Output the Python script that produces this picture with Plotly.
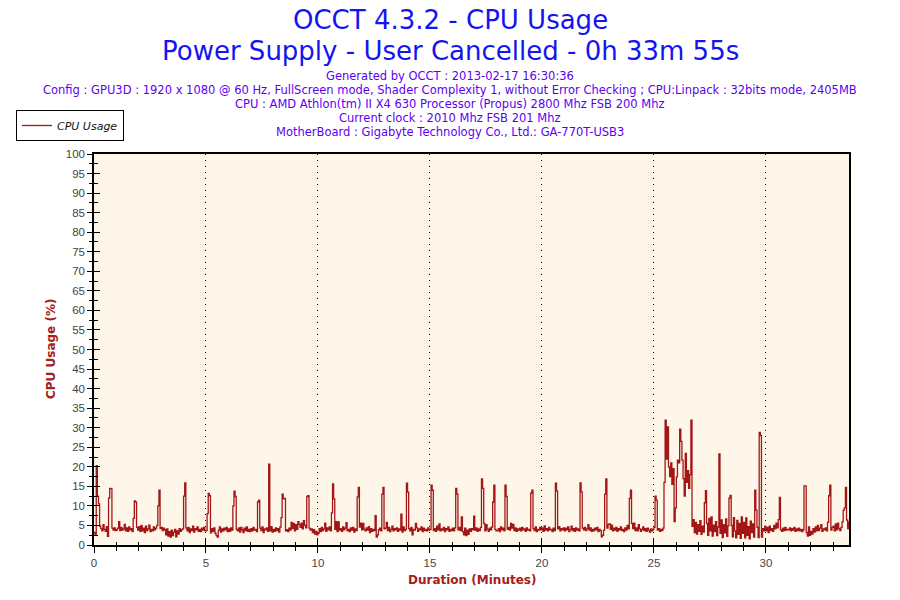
import plotly.graph_objects as go

# CPU usage samples, one every 0.05 minute (3 s), rows = one minute each
m00 = [3.2, 2.6, 20.3, 12.5, 10.5, 4.8, 4.2, 3.6, 5.2, 4.0, 3.5, 4.7, 2.2, 12.0, 14.5, 14.4, 4.3, 3.8, 4.4, 3.7]
m01 = [3.9, 4.3, 6.0, 3.7, 4.5, 3.8, 4.1, 5.3, 3.6, 4.4, 3.5, 4.6, 3.9, 4.2, 3.4, 6.8, 11.3, 11.0, 4.5, 3.8]
m02 = [4.7, 3.5, 5.0, 3.6, 4.3, 3.2, 4.8, 3.7, 4.1, 5.1, 3.4, 4.0, 3.6, 4.6, 3.9, 4.3, 5.0, 10.0, 14.0, 4.2]
m03 = [4.5, 3.7, 4.3, 3.9, 2.6, 4.1, 2.3, 3.4, 2.0, 3.8, 2.4, 3.3, 4.0, 2.1, 3.6, 2.8, 4.2, 3.5, 3.9, 4.1]
m04 = [12.5, 15.9, 4.4, 3.6, 4.5, 3.2, 4.1, 3.7, 4.8, 3.3, 4.2, 3.9, 4.6, 3.5, 4.0, 3.4, 4.3, 3.8, 4.5, 3.6]
m05 = [3.7, 8.0, 13.2, 12.6, 3.1, 4.2, 3.5, 4.4, 3.0, 2.4, 2.0, 3.8, 4.6, 3.3, 4.1, 3.6, 4.3, 3.9, 4.5, 3.4]
m06 = [4.1, 3.5, 4.4, 3.8, 10.0, 13.8, 12.4, 4.0, 3.6, 4.4, 3.3, 4.5, 3.9, 3.2, 4.3, 3.7, 4.6, 3.5, 4.0, 3.4]
m07 = [4.2, 3.6, 4.5, 3.8, 4.0, 3.4, 11.0, 11.5, 4.3, 3.7, 4.6, 3.2, 4.1, 3.9, 4.4, 3.5, 20.7, 3.6, 4.7, 3.3]
m08 = [4.0, 3.5, 4.4, 3.7, 4.2, 3.3, 4.6, 7.0, 13.0, 11.8, 11.9, 3.6, 3.9, 3.4, 4.3, 3.8, 5.8, 4.2, 5.5, 3.6]
m09 = [5.2, 4.0, 6.0, 5.3, 4.5, 5.6, 4.1, 6.2, 5.0, 4.4, 12.4, 12.6, 4.3, 3.8, 4.1, 3.2, 3.9, 2.8, 3.5, 2.6]
m10 = [3.0, 4.2, 3.4, 4.5, 3.7, 4.1, 5.6, 3.5, 4.4, 3.9, 4.6, 3.6, 8.2, 15.6, 11.8, 4.0, 6.0, 3.4, 5.9, 3.8]
m11 = [4.2, 3.5, 4.6, 3.9, 4.3, 5.7, 3.6, 4.0, 3.4, 4.4, 3.8, 4.5, 3.3, 4.1, 3.7, 12.3, 14.7, 4.6, 5.6, 3.9]
m12 = [5.5, 4.0, 3.6, 4.4, 3.8, 4.7, 3.2, 4.2, 3.5, 4.0, 3.7, 7.5, 2.0, 2.6, 3.9, 4.3, 3.6, 13.0, 14.7, 4.1]
m13 = [4.3, 5.8, 3.7, 4.5, 3.4, 4.0, 4.8, 3.6, 4.2, 3.9, 4.4, 3.5, 4.1, 3.8, 7.9, 3.3, 4.6, 3.7, 4.0, 15.8]
m14 = [13.5, 4.2, 3.6, 4.5, 2.6, 4.0, 3.8, 5.5, 4.4, 3.5, 4.1, 3.9, 4.6, 3.4, 4.3, 3.7, 4.0, 3.6, 4.4, 3.8]
m15 = [4.0, 15.3, 14.0, 3.7, 4.2, 3.5, 4.8, 3.9, 5.4, 3.6, 4.1, 3.8, 4.5, 3.4, 4.2, 3.9, 4.6, 3.5, 4.0, 3.7]
m16 = [4.3, 3.6, 4.4, 14.5, 13.0, 3.9, 4.5, 3.7, 7.2, 3.4, 2.6, 4.3, 2.4, 3.8, 2.7, 4.1, 3.5, 4.2, 3.9, 7.4]
m17 = [3.8, 4.4, 3.5, 4.1, 3.7, 4.5, 16.9, 14.5, 5.5, 3.6, 5.2, 4.0, 3.5, 4.3, 3.9, 4.6, 11.0, 15.3, 4.0, 3.6]
m18 = [3.7, 4.2, 3.4, 4.6, 3.9, 4.3, 3.6, 15.3, 12.4, 4.0, 4.5, 3.8, 5.5, 4.3, 5.3, 3.7, 4.4, 3.5, 4.1, 3.8]
m19 = [4.3, 3.6, 4.5, 3.9, 4.1, 3.5, 4.4, 3.8, 4.0, 3.6, 13.3, 14.0, 4.2, 3.7, 4.6, 3.4, 4.0, 3.8, 4.5, 3.9]
m20 = [4.4, 3.5, 4.9, 3.8, 4.2, 3.6, 4.5, 3.9, 4.0, 3.4, 4.3, 3.7, 15.8, 13.8, 4.1, 4.7, 3.6, 4.2, 3.9, 4.4]
m21 = [3.6, 4.3, 3.9, 4.6, 3.4, 4.0, 4.8, 3.7, 4.2, 3.5, 4.4, 3.8, 4.1, 3.6, 15.9, 13.6, 4.3, 3.9, 4.5, 3.7]
m22 = [4.1, 5.2, 3.8, 4.4, 3.5, 4.0, 3.6, 4.3, 3.9, 4.5, 3.4, 4.0, 3.7, 2.1, 2.5, 3.8, 13.0, 16.9, 4.3, 5.3]
m23 = [5.4, 4.0, 5.1, 3.6, 4.3, 3.8, 4.5, 3.5, 4.2, 3.9, 4.6, 3.7, 4.0, 3.4, 4.4, 3.8, 5.0, 4.1, 11.9, 14.0]
m24 = [5.5, 4.2, 5.6, 3.7, 4.4, 3.6, 5.2, 4.1, 3.5, 4.0, 4.6, 3.7, 4.2, 3.5, 4.3, 3.8, 3.3, 4.1, 3.6, 4.0]
m25 = [4.5, 12.5, 11.5, 3.8, 4.2, 3.5, 4.0, 3.7, 4.3, 16.0, 31.9, 22.0, 30.2, 20.0, 17.5, 21.0, 15.5, 19.5, 6.0, 9.5]
m26 = [17.4, 21.7, 21.0, 29.6, 26.5, 21.7, 17.0, 12.5, 23.4, 16.0, 19.0, 14.5, 18.0, 31.9, 4.8, 6.5, 3.2, 5.8, 2.8, 5.2]
m27 = [3.5, 6.2, 2.7, 4.8, 3.3, 10.8, 13.9, 5.5, 2.5, 6.8, 3.6, 7.2, 2.3, 5.1, 3.4, 6.0, 2.4, 4.6, 23.3, 3.0]
m28 = [6.4, 1.9, 5.2, 3.1, 6.7, 2.2, 4.9, 12.0, 12.7, 5.0, 2.1, 7.0, 3.6, 1.8, 6.3, 2.7, 5.5, 1.7, 7.2, 3.0]
m29 = [5.8, 1.8, 6.9, 2.5, 4.7, 1.6, 6.1, 3.2, 5.4, 2.0, 14.0, 8.9, 4.5, 1.9, 28.8, 28.0, 2.0, 4.2, 3.6, 4.8]
m30 = [3.6, 4.5, 3.2, 4.8, 3.7, 4.2, 3.5, 5.0, 4.1, 5.6, 4.4, 6.5, 12.2, 3.9, 3.5, 4.3, 3.7, 4.5, 3.8, 4.0]
m31 = [3.9, 4.4, 3.6, 4.2, 3.8, 4.5, 3.5, 4.1, 3.7, 4.3, 3.6, 4.0, 3.4, 3.9, 15.1, 15.1, 3.2, 2.3, 4.6, 2.5]
m32 = [3.5, 2.8, 4.2, 3.3, 4.6, 3.6, 5.0, 3.7, 4.3, 5.2, 3.5, 4.1, 3.9, 4.4, 3.6, 5.8, 12.6, 15.3, 3.8, 4.5]
m33 = [4.8, 3.6, 5.4, 3.9, 5.6, 4.2, 3.7, 4.5, 5.9, 8.9, 9.5, 14.7, 6.4, 4.2, 6.0]

minutes = [m00, m01, m02, m03, m04, m05, m06, m07, m08, m09, m10, m11, m12, m13, m14, m15, m16,
           m17, m18, m19, m20, m21, m22, m23, m24, m25, m26, m27, m28, m29, m30, m31, m32, m33]
cpu_usage = [v for row in minutes for v in row]
sample_step_min = 0.05
duration_min = [i * sample_step_min for i in range(len(cpu_usage))]

x_ticks = [0, 5, 10, 15, 20, 25, 30]
y_ticks = list(range(0, 101, 5))

title_lines = ["OCCT 4.3.2 - CPU Usage", "Power Supply - User Cancelled - 0h 33m 55s"]
info_lines = [
    "Generated by OCCT : 2013-02-17 16:30:36",
    "Config : GPU3D : 1920 x 1080 @ 60 Hz, FullScreen mode, Shader Complexity 1, without Error Checking ; CPU:Linpack : 32bits mode, 2405MB",
    "CPU : AMD Athlon(tm) II X4 630 Processor (Propus) 2800 Mhz FSB 200 Mhz",
    "Current clock : 2010 Mhz FSB 201 Mhz",
    "MotherBoard : Gigabyte Technology Co., Ltd.: GA-770T-USB3",
]
x_title = "Duration (Minutes)"
y_title = "CPU Usage (%)"

LINE = "#A31616"
AXT = "#A52020"
W, H = 900, 600
L, T = 94, 154
R = W - 849
B = H - 545
xmax = duration_min[-1] + 0.01

fig = go.Figure()
fig.add_trace(go.Scatter(
    x=duration_min, y=cpu_usage, mode="lines", name="CPU Usage",
    line=dict(color=LINE, width=1.3, shape="hv"),
))
# invisible trace to materialise the inner-tick overlay axes
fig.add_trace(go.Scatter(x=[None], y=[None], xaxis="x2", yaxis="y2",
                         showlegend=False, hoverinfo="skip"))

tickfont = dict(family="Liberation Sans, Arial", size=11.5, color="#444444")

fig.update_layout(
    width=W, height=H,
    margin=dict(l=L, r=R, t=T, b=B, autoexpand=False),
    paper_bgcolor="white",
    plot_bgcolor="#FEF7E9",
    showlegend=True,
    legend=dict(
        xref="container", yref="container", x=16 / W, y=1 - 110 / H,
        xanchor="left", yanchor="top",
        bgcolor="white", bordercolor="black", borderwidth=1,
        font=dict(family="DejaVu Sans", size=11, color="#111111", style="italic"),
        itemwidth=30, tracegroupgap=0,
    ),
    xaxis=dict(
        range=[0, xmax], tickvals=x_ticks, ticks="outside", ticklen=6, tickwidth=1,
        tickcolor="black", tickfont=tickfont,
        showline=True, linecolor="black", linewidth=1.5, mirror=True,
        showgrid=True, gridcolor="black", griddash="1px,5px", gridwidth=1.2,
        zeroline=False,
        minor=dict(dtick=1, ticks="outside", ticklen=4, tickcolor="black", showgrid=False),
    ),
    yaxis=dict(
        range=[0, 100], tickvals=y_ticks, ticks="outside", ticklen=5, tickwidth=1,
        tickcolor="black", tickfont=tickfont,
        showline=True, linecolor="black", linewidth=1.5, mirror=True,
        showgrid=False, zeroline=False,
        minor=dict(dtick=2.5, ticks="outside", ticklen=3, tickcolor="black"),
    ),
    xaxis2=dict(
        range=[0, xmax], overlaying="x", anchor="y2", tickvals=x_ticks, ticks="inside", ticklen=6,
        tickcolor="black", showticklabels=False, showline=False, showgrid=False, zeroline=False,
        minor=dict(dtick=1, ticks="inside", ticklen=3, tickcolor="black"),
    ),
    yaxis2=dict(
        range=[0, 100], overlaying="y", anchor="x2", tickvals=y_ticks, ticks="inside", ticklen=6,
        tickcolor="black", showticklabels=False, showline=False, showgrid=False, zeroline=False,
        minor=dict(dtick=2.5, ticks="inside", ticklen=4, tickcolor="black"),
    ),
)

plot_h = H - T - B
plot_w = W - L - R

def px(sx):
    return (sx - L) / plot_w

def py(sy):
    return (H - B - sy) / plot_h

for text, sy in zip(title_lines, [20, 51]):
    fig.add_annotation(text=text, x=px(450), y=py(sy), xref="paper", yref="paper",
                       showarrow=False, xanchor="center", yanchor="middle",
                       font=dict(family="DejaVu Sans", size=26, color="#1414F0"))
for text, sy in zip(info_lines, [76, 90, 104, 118, 132]):
    fig.add_annotation(text=text, x=px(450), y=py(sy), xref="paper", yref="paper",
                       showarrow=False, xanchor="center", yanchor="middle",
                       font=dict(family="DejaVu Sans", size=11.5, color="#5C00F0"))

fig.add_annotation(text="<b>" + x_title + "</b>", x=px(472), y=py(580), xref="paper", yref="paper",
                   showarrow=False, xanchor="center", yanchor="middle",
                   font=dict(family="DejaVu Sans", size=12, color=AXT))
fig.add_annotation(text="<b>" + y_title + "</b>", x=px(51), y=py(349), xref="paper", yref="paper",
                   showarrow=False, xanchor="center", yanchor="middle", textangle=-90,
                   font=dict(family="DejaVu Sans", size=12, color=AXT))

# let the 900x600 figure sit at the very top-left of the page
fig.write_html("out.html", config={"displayModeBar": False},
               post_script="document.body.style.margin='0';")
